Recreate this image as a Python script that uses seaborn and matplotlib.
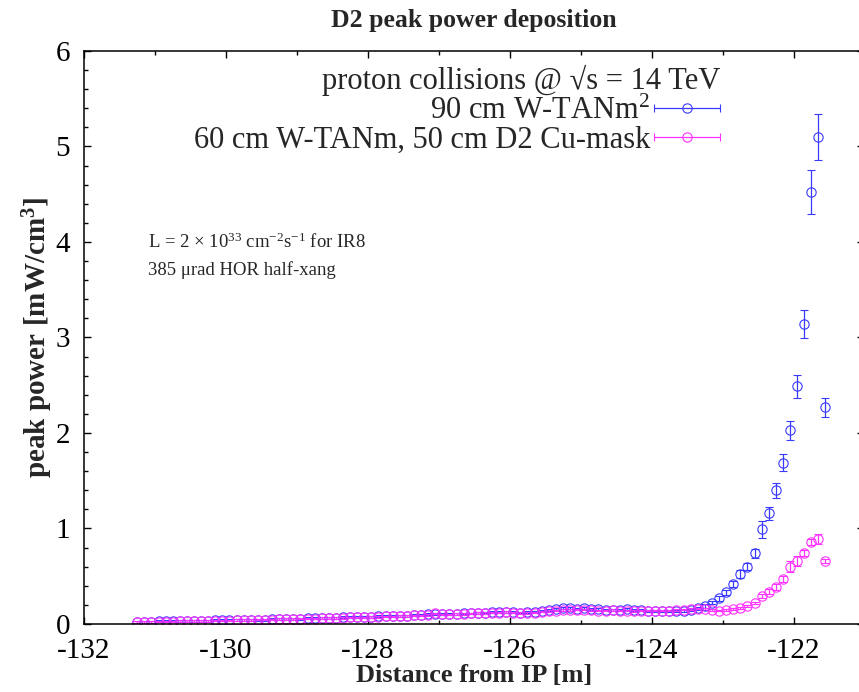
import numpy as np
import matplotlib
matplotlib.use("Agg")
import matplotlib.pyplot as plt
import seaborn as sns
from matplotlib.container import ErrorbarContainer
from matplotlib.legend_handler import HandlerErrorbar
from matplotlib.ticker import MultipleLocator

# bin centres along the beam line [m]
distance = [
    -131.25, -131.15, -131.05, -130.95, -130.85, -130.75, -130.65, -130.55, -130.45, -130.35,
    -130.25, -130.15, -130.05, -129.95, -129.85, -129.75, -129.65, -129.55, -129.45, -129.35,
    -129.25, -129.15, -129.05, -128.95, -128.85, -128.75, -128.65, -128.55, -128.45, -128.35,
    -128.25, -128.15, -128.05, -127.95, -127.85, -127.75, -127.65, -127.55, -127.45, -127.35,
    -127.25, -127.15, -127.05, -126.95, -126.85, -126.75, -126.65, -126.55, -126.45, -126.35,
    -126.25, -126.15, -126.05, -125.95, -125.85, -125.75, -125.65, -125.55, -125.45, -125.35,
    -125.25, -125.15, -125.05, -124.95, -124.85, -124.75, -124.65, -124.55, -124.45, -124.35,
    -124.25, -124.15, -124.05, -123.95, -123.85, -123.75, -123.65, -123.55, -123.45, -123.35,
    -123.25, -123.15, -123.05, -122.95, -122.85, -122.75, -122.65, -122.55, -122.45, -122.35,
    -122.25, -122.15, -122.05, -121.95, -121.85, -121.75, -121.65, -121.55,
]

# 90 cm W-TANm
tan_power = [
    0.02, 0.02, 0.025, 0.03, 0.035, 0.03, 0.03, 0.03, 0.03, 0.03,
    0.035, 0.04, 0.04, 0.04, 0.04, 0.045, 0.045, 0.04, 0.045, 0.05,
    0.05, 0.05, 0.055, 0.055, 0.06, 0.06, 0.06, 0.065, 0.065, 0.07,
    0.07, 0.07, 0.075, 0.075, 0.08, 0.08, 0.08, 0.085, 0.085, 0.09,
    0.09, 0.1, 0.1, 0.1, 0.1, 0.105, 0.11, 0.11, 0.115, 0.12,
    0.125, 0.13, 0.13, 0.125, 0.12, 0.125, 0.13, 0.14, 0.15, 0.16,
    0.165, 0.165, 0.16, 0.165, 0.16, 0.155, 0.15, 0.145, 0.15, 0.155,
    0.15, 0.145, 0.14, 0.135, 0.135, 0.14, 0.14, 0.14, 0.147, 0.165,
    0.19, 0.224, 0.27, 0.33, 0.42, 0.52, 0.60, 0.74, 0.99, 1.16,
    1.40, 1.69, 2.03, 2.49, 3.14, 4.52, 5.10, 2.27,
]
tan_err = [
    0.01, 0.01, 0.01, 0.01, 0.01, 0.01, 0.01, 0.01, 0.01, 0.01,
    0.01, 0.01, 0.01, 0.01, 0.01, 0.01, 0.01, 0.01, 0.01, 0.01,
    0.01, 0.01, 0.01, 0.01, 0.01, 0.01, 0.01, 0.01, 0.01, 0.01,
    0.01, 0.01, 0.01, 0.01, 0.01, 0.01, 0.01, 0.01, 0.01, 0.01,
    0.01, 0.01, 0.01, 0.01, 0.01, 0.01, 0.01, 0.01, 0.01, 0.01,
    0.01, 0.01, 0.01, 0.01, 0.01, 0.01, 0.01, 0.01, 0.01, 0.01,
    0.01, 0.01, 0.01, 0.01, 0.01, 0.01, 0.01, 0.01, 0.01, 0.01,
    0.01, 0.01, 0.01, 0.01, 0.01, 0.01, 0.01, 0.012, 0.013, 0.015,
    0.018, 0.02, 0.025, 0.03, 0.035, 0.04, 0.04, 0.05, 0.085, 0.07,
    0.08, 0.09, 0.10, 0.12, 0.15, 0.23, 0.245, 0.10,
]

# 60 cm W-TANm + 50 cm D2 Cu-mask
mask_power = [
    0.02, 0.02, 0.02, 0.025, 0.025, 0.025, 0.03, 0.03, 0.03, 0.03,
    0.03, 0.035, 0.035, 0.035, 0.04, 0.04, 0.04, 0.045, 0.045, 0.045,
    0.05, 0.05, 0.05, 0.055, 0.055, 0.055, 0.06, 0.06, 0.065, 0.065,
    0.07, 0.07, 0.07, 0.075, 0.075, 0.08, 0.08, 0.085, 0.085, 0.09,
    0.09, 0.095, 0.11, 0.1, 0.1, 0.105, 0.105, 0.11, 0.115, 0.115,
    0.12, 0.12, 0.125, 0.12, 0.115, 0.115, 0.12, 0.13, 0.135, 0.14,
    0.145, 0.145, 0.15, 0.15, 0.145, 0.14, 0.14, 0.145, 0.14, 0.14,
    0.135, 0.14, 0.14, 0.14, 0.14, 0.14, 0.145, 0.15, 0.155, 0.16,
    0.155, 0.147, 0.14, 0.147, 0.16, 0.17, 0.19, 0.22, 0.29, 0.34,
    0.39, 0.47, 0.60, 0.66, 0.74, 0.86, 0.89, 0.66,
]
mask_err = [
    0.008, 0.008, 0.008, 0.008, 0.008, 0.008, 0.008, 0.008, 0.008, 0.008,
    0.008, 0.008, 0.008, 0.008, 0.008, 0.008, 0.008, 0.008, 0.008, 0.008,
    0.008, 0.008, 0.008, 0.008, 0.008, 0.008, 0.008, 0.008, 0.008, 0.008,
    0.008, 0.008, 0.008, 0.008, 0.008, 0.008, 0.008, 0.008, 0.008, 0.008,
    0.008, 0.008, 0.008, 0.008, 0.008, 0.008, 0.008, 0.008, 0.008, 0.008,
    0.008, 0.008, 0.008, 0.008, 0.008, 0.008, 0.008, 0.008, 0.008, 0.008,
    0.008, 0.008, 0.008, 0.008, 0.008, 0.008, 0.008, 0.008, 0.008, 0.008,
    0.008, 0.008, 0.008, 0.008, 0.008, 0.008, 0.008, 0.008, 0.008, 0.008,
    0.008, 0.008, 0.008, 0.008, 0.01, 0.01, 0.012, 0.015, 0.02, 0.025,
    0.03, 0.03, 0.06, 0.05, 0.03, 0.03, 0.05, 0.02,
]

labels = ["90 cm W-TANm$^2$", "60 cm W-TANm, 50 cm D2 Cu-mask"]
colors = ["#3a3aff", "#ff33ff"]

sns.set_theme(style="ticks")
plt.rcParams['font.family'] = ['Liberation Serif', 'DejaVu Serif']
plt.rcParams['mathtext.default'] = 'regular'
plt.rcParams['axes.unicode_minus'] = False

fig = plt.figure(figsize=(8.59, 6.92), dpi=100)
ax = fig.add_axes([0.0978, 0.0983, 0.9086, 0.828])

containers = []
for y, e, c, lab in zip([tan_power, mask_power], [tan_err, mask_err], colors, labels):
    cont = ax.errorbar(distance, y, yerr=e, fmt='o', ms=6.7, mfc='none', mec=c,
                       mew=0.8, color=c, ecolor=c, elinewidth=0.9, capsize=3.2,
                       capthick=0.9, label=lab)
    containers.append(cont)

ax.set_xlim(-132, -121)
ax.set_ylim(0, 6)
ax.xaxis.set_major_locator(MultipleLocator(2))
ax.xaxis.set_minor_locator(MultipleLocator(1))
ax.yaxis.set_major_locator(MultipleLocator(1))
ax.yaxis.set_minor_locator(MultipleLocator(0.2))
ax.tick_params(which='both', direction='in', top=True, right=True, width=1.0,
               colors='black', labelsize=21)
ax.tick_params(which='major', length=5)
ax.tick_params(which='minor', length=3)
ax.tick_params(axis='y', pad=10)
ax.tick_params(axis='x', pad=10, labelsize=21)
for sp in ax.spines.values():
    sp.set_linewidth(1.1)
    sp.set_color('black')

ax.set_title("D2 peak power deposition", fontsize=18.5, fontweight='bold', pad=17)
ax.set_xlabel("Distance from IP [m]", fontsize=19, fontweight='bold', labelpad=0)
ax.set_ylabel("peak power [mW/cm$^3$]", fontsize=21, fontweight='bold', labelpad=0)

# legend in gnuplot style: text right-aligned, horizontal error-bar sample
leg_handles = [ErrorbarContainer(c.lines, has_xerr=True, has_yerr=False) for c in containers]
leg = ax.legend(leg_handles, labels, loc='upper right', bbox_to_anchor=(0.815, 0.975),
                frameon=False, markerfirst=False, fontsize=22, handlelength=2.15,
                handletextpad=0.13, labelspacing=0.0, borderaxespad=0, borderpad=0,
                title="proton collisions @ √s = 14 TeV", title_fontsize=22,
                alignment='right',
                handler_map={ErrorbarContainer: HandlerErrorbar(xerr_size=1.08)})

ax.text(0.082, 0.667, "L = 2 × 10$^{33}$ cm$^{-2}$s$^{-1}$ for IR8", transform=ax.transAxes,
        fontsize=13.5, va='center', ha='left')
ax.text(0.082, 0.618, "385 μrad HOR half-xang", transform=ax.transAxes,
        fontsize=13.5, va='center', ha='left')

fig.savefig("out.png", dpi=100)
